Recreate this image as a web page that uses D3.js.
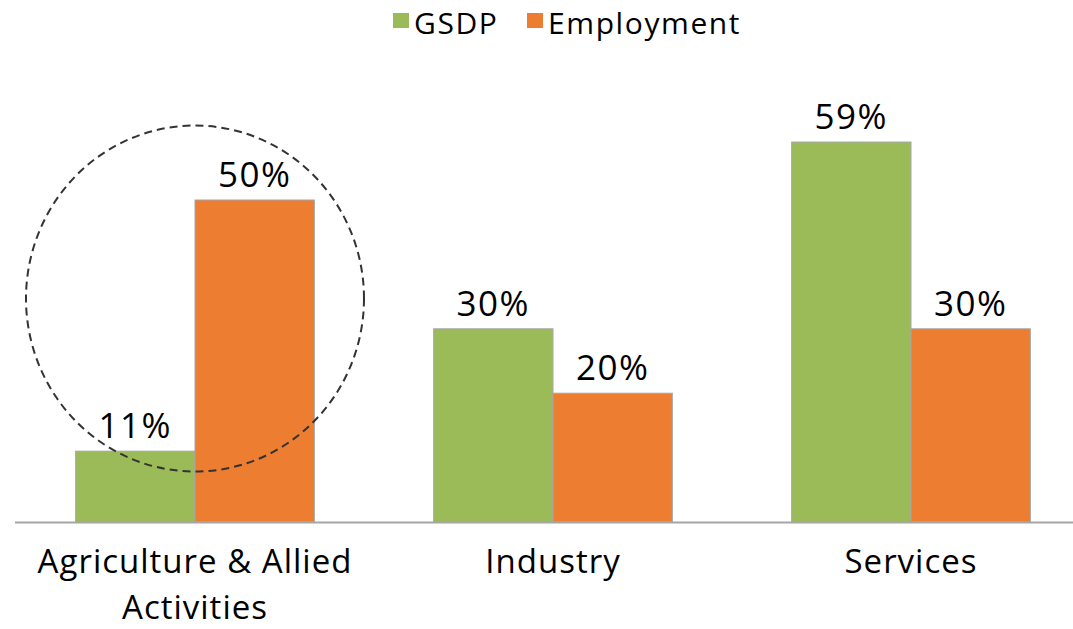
<!DOCTYPE html>
<html>
<head>
<meta charset="utf-8">
<script src="https://cdn.jsdelivr.net/npm/d3@7"></script>
<style>
  html, body { margin: 0; padding: 0; background: #fff; }
  svg { display: block; font-family: "Open Sans", "Noto Sans", sans-serif; }
</style>
</head>
<body>
<svg id="chart" width="1073" height="629"></svg>
<script>
// Sector shares of state GDP versus share of employment
const categories = ["Agriculture & Allied Activities", "Industry", "Services"];
const categoryLines = [["Agriculture & Allied", "Activities"], ["Industry"], ["Services"]];
const seriesNames = ["GSDP", "Employment"];
const gsdp = [11, 30, 59];
const employment = [50, 20, 30];
const seriesColors = ["#9BBB59", "#ED7D31"];

const svg = d3.select("#chart");
const width = 1073, height = 629;
const baseY = 522;

const x0 = d3.scaleBand().domain(categories).range([16, 1090]).padding(0);
const x1 = d3.scaleBand().domain(seriesNames).range([0, x0.bandwidth()]).paddingInner(0).paddingOuter(0.5);
const y = d3.scaleLinear().domain([0, 60]).range([baseY, baseY - 6.44 * 60]);

const rows = categories.map((c, i) => ({
  category: c,
  values: [{ key: "GSDP", v: gsdp[i] }, { key: "Employment", v: employment[i] }]
}));

const groups = svg.append("g").selectAll("g")
  .data(rows).join("g")
  .attr("transform", d => `translate(${x0(d.category)},0)`);

groups.selectAll("rect")
  .data(d => d.values).join("rect")
  .attr("x", d => x1(d.key))
  .attr("y", d => y(d.v))
  .attr("width", x1.bandwidth())
  .attr("height", d => y(0) - y(d.v))
  .attr("fill", (d, i) => seriesColors[i])
  .attr("stroke", "#a6a6a6")
  .attr("stroke-width", 1);

groups.selectAll("text.val")
  .data(d => d.values).join("text")
  .attr("class", "val")
  .attr("x", d => x1(d.key) + x1.bandwidth() / 2)
  .attr("y", d => y(d.v) - 13)
  .attr("text-anchor", "middle")
  .attr("font-size", 35)
  .attr("letter-spacing", 1.5)
  .attr("fill", "#000")
  .text(d => d.v + "%");

// baseline
svg.append("line")
  .attr("x1", 15).attr("x2", width)
  .attr("y1", y(0) + 0.5).attr("y2", y(0) + 0.5)
  .attr("stroke", "#a6a6a6").attr("stroke-width", 2);

// category labels
const labels = svg.append("g").selectAll("text")
  .data(categories).join("text")
  .attr("x", d => x0(d) + x0.bandwidth() / 2)
  .attr("y", 573)
  .attr("text-anchor", "middle")
  .attr("font-size", 33)
  .attr("letter-spacing", 1)
  .attr("fill", "#000");
labels.each(function (d, i) {
  d3.select(this).selectAll("tspan")
    .data(categoryLines[i]).join("tspan")
    .attr("x", x0(d) + x0.bandwidth() / 2)
    .attr("dy", (t, j) => j === 0 ? 0 : 46)
    .text(t => t);
});

// dashed highlight around agriculture
svg.append("ellipse")
  .attr("cx", x0(categories[0]) + x0.bandwidth() / 2)
  .attr("cy", y(34.7))
  .attr("rx", 169)
  .attr("ry", 173)
  .attr("fill", "none")
  .attr("stroke", "#333")
  .attr("stroke-width", 2)
  .attr("stroke-dasharray", "8,5");

// legend
const legendItems = [
  { name: seriesNames[0], color: seriesColors[0], x: 393 },
  { name: seriesNames[1], color: seriesColors[1], x: 527 }
];
const lg = svg.append("g").selectAll("g").data(legendItems).join("g")
  .attr("transform", d => `translate(${d.x},0)`);
lg.append("rect").attr("x", 0).attr("y", 13).attr("width", 16).attr("height", 15)
  .attr("fill", d => d.color);
lg.append("text").attr("x", 21).attr("y", 34)
  .attr("font-size", 30).attr("letter-spacing", 1.6)
  .attr("fill", "#000").text(d => d.name);
</script>
</body>
</html>
